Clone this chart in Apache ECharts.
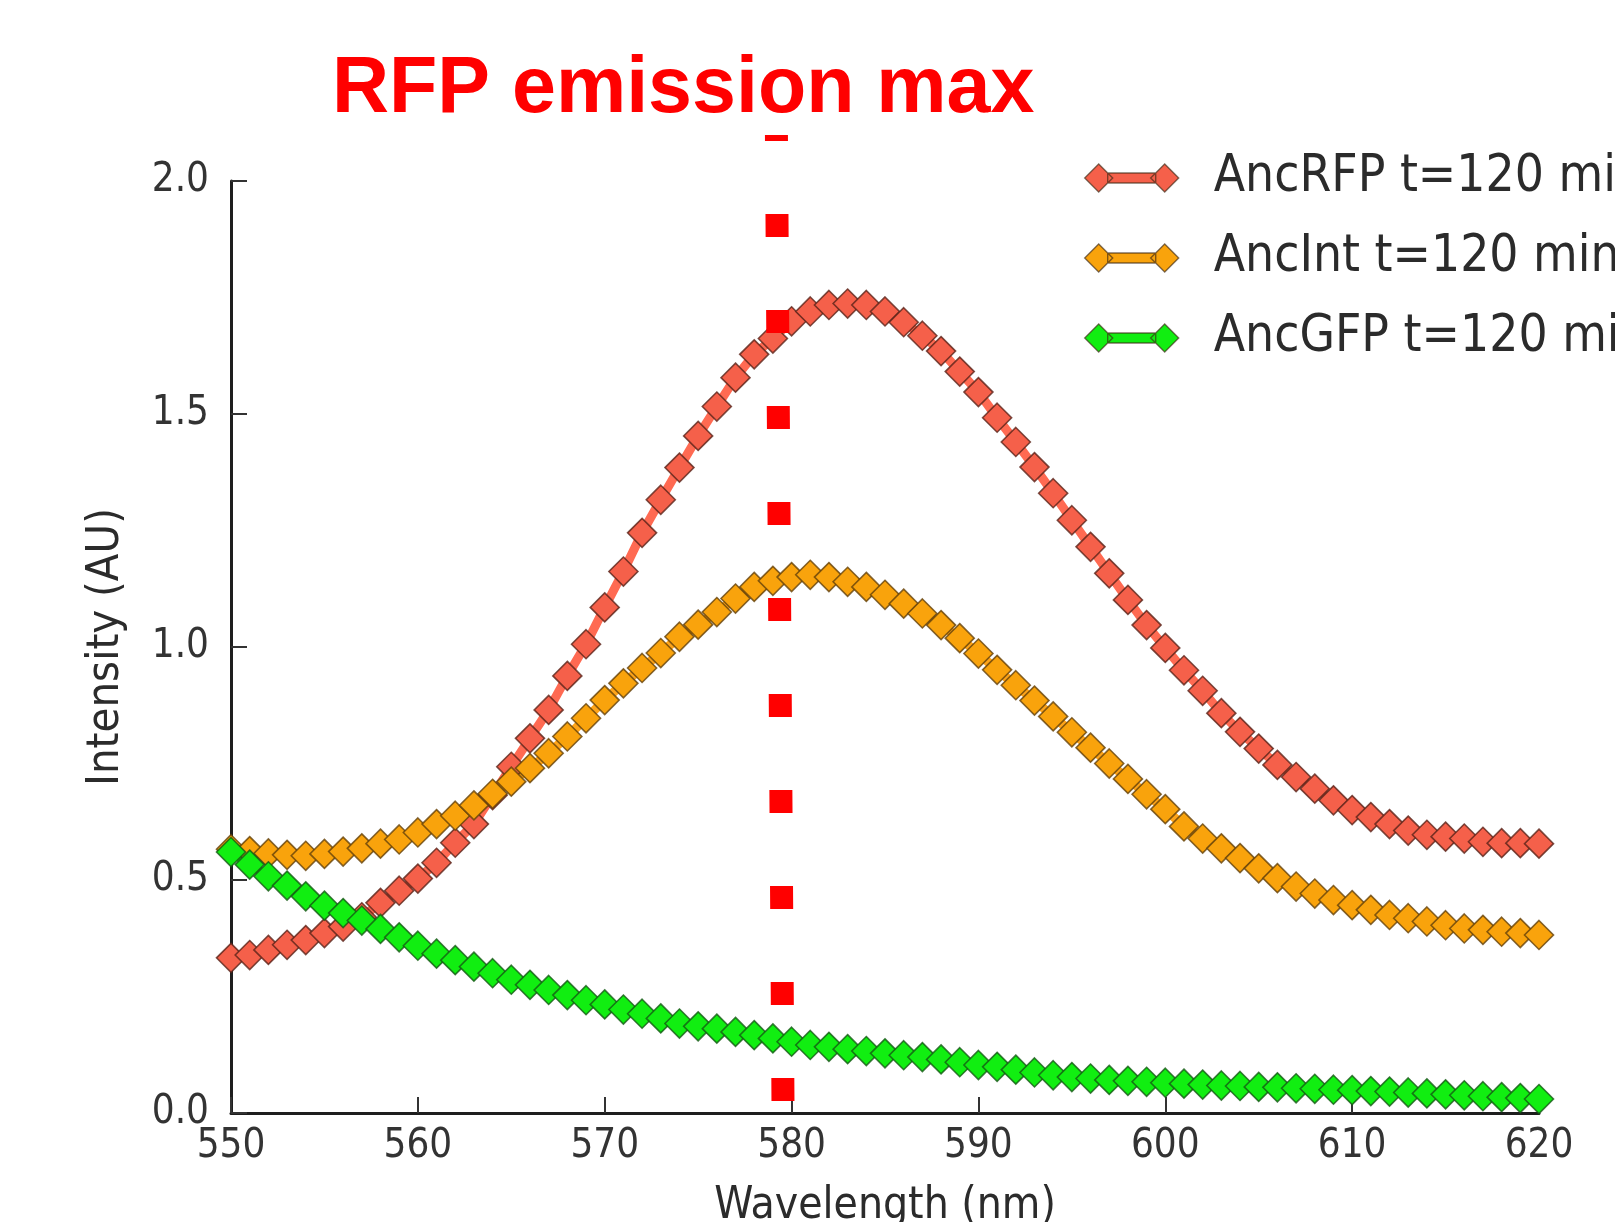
<!DOCTYPE html>
<html>
<head>
<meta charset="utf-8">
<title>RFP emission max</title>
<script src="https://cdn.jsdelivr.net/npm/echarts@6/dist/echarts.min.js"></script>
<style>
  html, body { margin: 0; padding: 0; background: #ffffff; }
  #chart { width: 1615px; height: 1222px; }
</style>
</head>
<body>
<div id="chart"></div>
<script>
// ---- data ----
const wavelengths = [550,551,552,553,554,555,556,557,558,559,560,561,562,563,564,565,566,567,568,569,
  570,571,572,573,574,575,576,577,578,579,580,581,582,583,584,585,586,587,588,589,
  590,591,592,593,594,595,596,597,598,599,600,601,602,603,604,605,606,607,608,609,
  610,611,612,613,614,615,616,617,618,619,620];

const ancRFP = [0.333,0.339,0.350,0.361,0.371,0.386,0.400,0.420,0.451,0.477,
  0.503,0.537,0.580,0.620,0.682,0.743,0.804,0.865,0.938,1.006,
  1.085,1.162,1.245,1.316,1.385,1.453,1.516,1.578,1.628,1.662,
  1.699,1.720,1.734,1.737,1.734,1.720,1.697,1.668,1.635,1.591,
  1.547,1.492,1.440,1.386,1.330,1.272,1.215,1.158,1.101,1.047,
  0.998,0.950,0.906,0.858,0.818,0.782,0.747,0.721,0.696,0.671,
  0.650,0.635,0.620,0.606,0.597,0.593,0.589,0.582,0.579,0.579,0.578];

const ancInt = [0.566,0.562,0.557,0.554,0.552,0.556,0.561,0.568,0.578,0.587,
  0.602,0.620,0.638,0.660,0.685,0.711,0.740,0.772,0.808,0.847,
  0.886,0.922,0.955,0.987,1.022,1.048,1.075,1.104,1.129,1.142,
  1.150,1.155,1.150,1.140,1.129,1.112,1.093,1.072,1.047,1.019,
  0.986,0.951,0.918,0.885,0.851,0.817,0.784,0.750,0.717,0.684,
  0.652,0.615,0.589,0.568,0.547,0.525,0.504,0.486,0.471,0.457,
  0.446,0.436,0.425,0.418,0.411,0.403,0.396,0.393,0.389,0.386,0.382];

const ancGFP = [0.560,0.533,0.508,0.488,0.465,0.445,0.429,0.413,0.395,0.377,
  0.359,0.342,0.328,0.314,0.300,0.286,0.275,0.264,0.253,0.242,
  0.233,0.222,0.213,0.203,0.192,0.186,0.181,0.174,0.167,0.160,
  0.153,0.146,0.142,0.137,0.133,0.128,0.124,0.120,0.115,0.109,
  0.103,0.099,0.093,0.087,0.081,0.077,0.074,0.071,0.069,0.067,
  0.065,0.063,0.061,0.059,0.058,0.056,0.055,0.053,0.052,0.050,
  0.049,0.047,0.046,0.044,0.042,0.040,0.038,0.036,0.034,0.032,0.030];

// red dotted "emission max" marker line: [wavelength, intensity] end points
const emissionMaxLine = [[579.19, 2.0987], [579.54, 0.0258]];

const seriesNames = ['AncRFP t=120 min', 'AncInt t=120 min', 'AncGFP t=120 min'];
const xTicks = { min: 550, max: 620, step: 10 };
const yTicks = { min: 0, max: 2, step: 0.5 };

// ---- chart ----
const pair = ys => wavelengths.map((w, i) => [w, ys[i]]);
const tickFont = "'DejaVu Sans Condensed', 'DejaVu Sans', sans-serif";

const legendIcon = 'path://M0,14 L14,0 L28,14 L14,28 Z M66,14 L80,0 L94,14 L80,28 Z M23,9 L71,9 L71,19 L23,19 Z';

function curve(name, ys, fill, line, edge) {
  return {
    name: name,
    type: 'line',
    data: pair(ys),
    symbol: 'diamond',
    symbolSize: 29,
    showSymbol: true,
    lineStyle: { color: line, width: 9 },
    itemStyle: { color: fill, borderColor: edge, borderWidth: 1.6 },
    emphasis: { disabled: true },
    z: 3
  };
}

const chart = echarts.init(document.getElementById('chart'), null, { renderer: 'canvas' });
chart.setOption({
  animation: false,
  backgroundColor: '#ffffff',
  title: {
    text: 'RFP emission max',
    left: 332,
    top: 51,
    padding: 0,
    textStyle: {
      fontFamily: "'Liberation Sans', Arial, sans-serif",
      fontWeight: 'bold',
      fontSize: 79,
      color: '#ff0000'
    }
  },
  grid: { left: 231, right: 76, top: 181, bottom: 109, containLabel: false, outerBoundsMode: 'none' },
  legend: {
    data: seriesNames,
    orient: 'vertical',
    left: 1084,
    top: 148,
    padding: 0,
    itemGap: 20,
    itemWidth: 94,
    itemHeight: 28,
    icon: legendIcon,
    itemStyle: { borderColor: 'rgba(60,40,20,0.65)', borderWidth: 1.4 },
    textStyle: {
      fontFamily: tickFont,
      fontSize: 51,
      lineHeight: 60,
      color: '#2b2b2b',
      padding: [0, 0, 0, 30]
    },
    selectedMode: false
  },
  xAxis: {
    type: 'value',
    min: xTicks.min,
    max: xTicks.max,
    interval: xTicks.step,
    name: 'Wavelength (nm)',
    nameLocation: 'middle',
    nameGap: 72,
    nameTextStyle: { fontFamily: tickFont, fontSize: 44, color: '#2b2b2b' },
    axisLine: { show: true, onZero: false, lineStyle: { color: '#1e1e1e', width: 3 } },
    axisTick: { show: true, inside: true, length: 16, lineStyle: { color: '#333', width: 2 } },
    axisLabel: { fontFamily: tickFont, fontSize: 40, color: '#333', margin: 14 },
    splitLine: { show: false }
  },
  yAxis: {
    type: 'value',
    min: yTicks.min,
    max: yTicks.max,
    interval: yTicks.step,
    name: 'Intensity (AU)',
    nameLocation: 'middle',
    nameGap: 102,
    nameRotate: 90,
    nameTextStyle: { fontFamily: tickFont, fontSize: 45, color: '#2b2b2b' },
    axisLine: { show: true, onZero: false, lineStyle: { color: '#1e1e1e', width: 3 } },
    axisTick: { show: true, inside: true, length: 16, lineStyle: { color: '#333', width: 2 } },
    axisLabel: { fontFamily: tickFont, fontSize: 40, color: '#333', margin: 22,
      formatter: v => v.toFixed(1) },
    splitLine: { show: false }
  },
  series: [
    curve(seriesNames[0], ancRFP, '#f5604a', '#ff6a52', 'rgba(90,35,25,0.8)'),
    curve(seriesNames[1], ancInt, '#f9a30c', '#ffa51a', 'rgba(100,65,10,0.8)'),
    curve(seriesNames[2], ancGFP, '#11ee11', '#22f022', 'rgba(20,90,20,0.8)'),
    {
      name: 'emission max',
      type: 'line',
      data: emissionMaxLine,
      symbol: 'none',
      clip: false,
      silent: true,
      z: 5,
      lineStyle: { color: '#ff0000', width: 23, type: [23, 73], dashOffset: 17, cap: 'butt' },
      emphasis: { disabled: true }
    }
  ]
});
</script>
</body>
</html>
